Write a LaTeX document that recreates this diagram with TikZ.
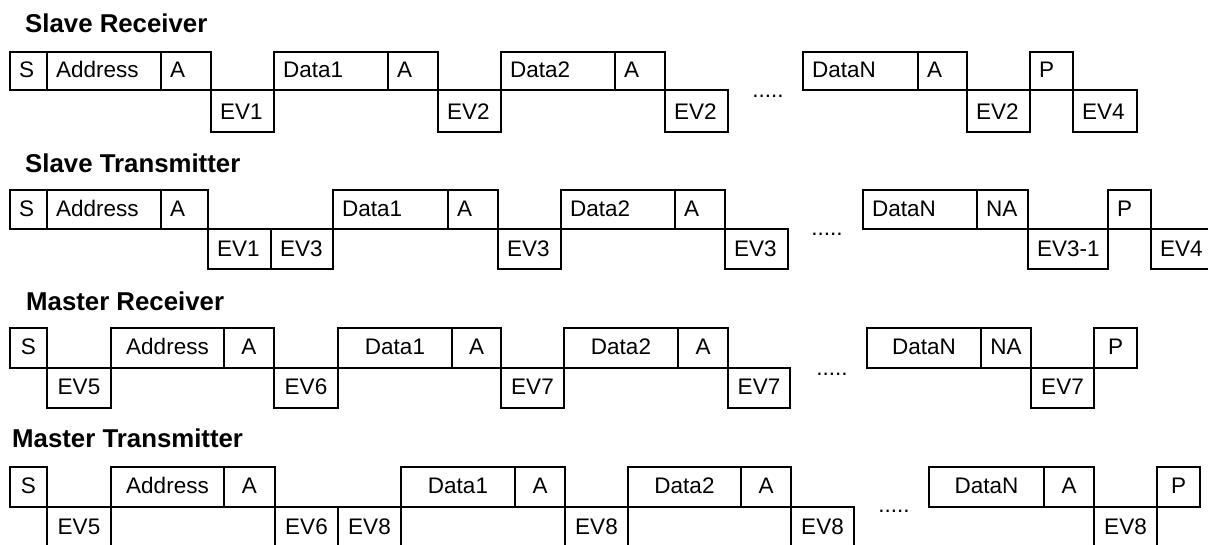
\documentclass[tikz,border=0pt]{standalone}
\usepackage{fontspec}
\setmainfont{Liberation Sans}
\tikzset{
  cell/.style={draw, line width=2.2pt, rectangle, inner sep=0pt},
  txt/.style={font=\fontsize{22.5}{27}\selectfont, inner sep=0pt},
  ttl/.style={font=\fontsize{25.8}{30}\selectfont\bfseries, inner sep=0pt, anchor=base west},
}
% left-aligned cell: name, x1, x2, ytop, ybottom, text
\newcommand\cellL[6]{%
  \node[cell, minimum width={(#3-#2)*1pt}, minimum height={(#5-#4)*1pt}] (#1) at ({(#2+#3)/2},{(#4+#5)/2}) {};
  \node[txt, anchor=base west] (#1t) at ([shift={(10pt,14pt)}]#1.south west) {#6};}
% centred cell
\newcommand\cellC[6]{%
  \node[cell, minimum width={(#3-#2)*1pt}, minimum height={(#5-#4)*1pt}] (#1) at ({(#2+#3)/2},{(#4+#5)/2}) {};
  \node[txt, anchor=base] (#1t) at ([shift={(0pt,15pt)}]#1.south) {#6};}
\begin{document}
\begin{tikzpicture}[x=1pt,y=-1pt]
\clip (0,0) rectangle (1208,544);
\fill[white] (0,0) rectangle (1208,544);

% ---------- Slave Receiver ----------
\node[ttl] (t1) at (25,32) {Slave Receiver};
\cellL{a1}{10}{47}{52}{90}{S}
\cellL{a2}{47}{161}{52}{90}{Address}
\cellL{a3}{161}{211}{52}{90}{A}
\cellL{a4}{211}{274}{90}{132}{EV1}
\cellL{a5}{274}{388}{52}{90}{Data1}
\cellL{a6}{388}{438}{52}{90}{A}
\cellL{a7}{438}{501}{90}{132}{EV2}
\cellL{a8}{501}{615}{52}{90}{Data2}
\cellL{a9}{615}{665}{52}{90}{A}
\cellL{a10}{665}{728}{90}{132}{EV2}
\node[txt, anchor=base] (ad) at (768,97) {.....};
\cellL{a11}{803}{918}{52}{90}{DataN}
\cellL{a12}{918}{967}{52}{90}{A}
\cellL{a13}{967}{1030}{90}{132}{EV2}
\cellL{a14}{1030}{1073}{52}{90}{P}
\cellL{a15}{1073}{1137}{90}{132}{EV4}

% ---------- Slave Transmitter ----------
\node[ttl] (t2) at (25,172) {Slave Transmitter};
\cellL{b1}{10}{47}{190}{229}{S}
\cellL{b2}{47}{161}{190}{229}{Address}
\cellL{b3}{161}{208}{190}{229}{A}
\cellL{b4}{208}{271}{229}{269}{EV1}
\cellL{b5}{271}{333}{229}{269}{EV3}
\cellL{b6}{333}{448}{190}{229}{Data1}
\cellL{b7}{448}{498}{190}{229}{A}
\cellL{b8}{498}{561}{229}{269}{EV3}
\cellL{b9}{561}{675}{190}{229}{Data2}
\cellL{b10}{675}{725}{190}{229}{A}
\cellL{b11}{725}{788}{229}{269}{EV3}
\node[txt, anchor=base] (bd) at (827,235) {.....};
\cellL{b12}{863}{977}{190}{229}{DataN}
\cellL{b13}{977}{1028}{190}{229}{NA}
\cellL{b14}{1028}{1108}{229}{269}{EV3-1}
\cellL{b15}{1108}{1151}{190}{229}{P}
\cellL{b16}{1151}{1216}{229}{269}{EV4}

% ---------- Master Receiver ----------
\node[ttl] (t3) at (26,310) {Master Receiver};
\cellC{c1}{10}{47}{328}{368}{S}
\cellC{c2}{47}{111}{368}{408}{EV5}
\cellC{c3}{111}{224}{328}{368}{Address}
\cellC{c4}{224}{274}{328}{368}{A}
\cellC{c5}{274}{338}{368}{408}{EV6}
\cellC{c6}{338}{452}{328}{368}{Data1}
\cellC{c7}{452}{501}{328}{368}{A}
\cellC{c8}{501}{564}{368}{408}{EV7}
\cellC{c9}{564}{678}{328}{368}{Data2}
\cellC{c10}{678}{728}{328}{368}{A}
\cellC{c11}{728}{790}{368}{408}{EV7}
\node[txt, anchor=base] (cd) at (832,375) {.....};
\cellC{c12}{867}{981}{328}{368}{DataN}
\cellC{c13}{981}{1031}{328}{368}{NA}
\cellC{c14}{1031}{1094}{368}{408}{EV7}
\cellC{c15}{1094}{1137}{328}{368}{P}

% ---------- Master Transmitter ----------
\node[ttl] (t4) at (12,447) {Master Transmitter};
\cellC{d1}{10}{47}{467}{507}{S}
\cellC{d2}{47}{111}{507}{548}{EV5}
\cellC{d3}{111}{224}{467}{507}{Address}
\cellC{d4}{224}{275}{467}{507}{A}
\cellC{d5}{275}{338}{507}{548}{EV6}
\cellC{d6}{338}{401}{507}{548}{EV8}
\cellC{d7}{401}{515}{467}{507}{Data1}
\cellC{d8}{515}{565}{467}{507}{A}
\cellC{d9}{565}{628}{507}{548}{EV8}
\cellC{d10}{628}{741}{467}{507}{Data2}
\cellC{d11}{741}{791}{467}{507}{A}
\cellC{d12}{791}{854}{507}{548}{EV8}
\node[txt, anchor=base] (dd) at (894,512) {.....};
\cellC{d13}{929}{1044}{467}{507}{DataN}
\cellC{d14}{1044}{1094}{467}{507}{A}
\cellC{d15}{1094}{1157}{507}{548}{EV8}
\cellC{d16}{1157}{1200}{467}{507}{P}
\end{tikzpicture}
\end{document}
